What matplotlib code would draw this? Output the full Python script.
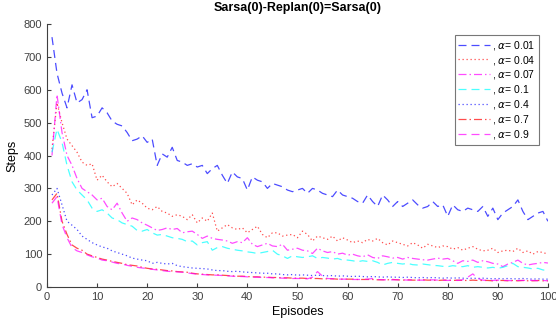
import numpy as np
import matplotlib
matplotlib.use("Agg")
import matplotlib.pyplot as plt

plt.rcParams['font.family'] = ['Liberation Sans', 'DejaVu Sans']
plt.rcParams['mathtext.fontset'] = 'dejavusans'

# Data (steps per episode, episodes 1..100)
episodes = np.arange(1, 101)

steps_a001 = [760, 650, 590, 545, 615, 560, 570, 600, 515, 520,
              545, 530, 505, 495, 490, 470, 445, 450, 460, 440,
              450, 370, 405, 395, 425, 385, 380, 370, 375, 365,
              370, 345, 360, 370, 340, 315, 350, 335, 330, 295,
              335, 325, 320, 300, 315, 310, 305, 295, 290, 295,
              300, 285, 300, 295, 285, 280, 275, 295, 280, 275,
              270, 260, 255, 280, 260, 245, 280, 265, 245, 260,
              245, 255, 265, 250, 240, 245, 260, 245, 250, 215,
              250, 235, 230, 240, 235, 230, 245, 215, 240, 205,
              225, 235, 245, 265, 230, 205, 215, 225, 230, 200]

steps_a004 = [420, 560, 500, 450, 430, 410, 380, 370, 375, 325,
              340, 320, 305, 315, 300, 285, 250, 265, 255, 240,
              235, 245, 230, 225, 215, 220, 215, 205, 220, 195,
              210, 200, 225, 170, 180, 190, 180, 175, 180, 165,
              175, 185, 160, 150, 165, 165, 155, 158, 160, 150,
              170, 160, 140, 155, 150, 145, 155, 140, 150, 143,
              135, 140, 135, 145, 140, 148, 135, 128, 140, 135,
              130, 125, 135, 128, 118, 130, 125, 120, 125, 123,
              115, 120, 112, 118, 123, 115, 110, 112, 118, 105,
              110, 112, 108, 118, 105, 110, 100, 108, 105, 100]

steps_a007 = [400, 585, 470, 400, 370, 330, 300, 290, 280, 265,
              270, 245, 235, 255, 225, 200, 210, 205, 195, 188,
              180, 172, 175, 180, 175, 178, 165, 168, 170, 160,
              148, 155, 148, 145, 143, 140, 133, 138, 135, 150,
              130, 123, 128, 133, 125, 123, 130, 112, 115, 118,
              112, 110, 102, 118, 110, 105, 108, 100, 103, 97,
              100, 95, 92, 98, 90, 87, 95, 92, 88, 90,
              85, 90, 87, 85, 83, 82, 85, 88, 85, 87,
              80, 72, 80, 78, 82, 75, 80, 77, 72, 70,
              62, 70, 75, 82, 72, 67, 70, 72, 75, 73]

steps_a01 = [410, 480, 440, 370, 320, 295, 280, 265, 240, 230,
             235, 225, 210, 205, 195, 190, 185, 172, 170, 175,
             165, 158, 160, 155, 150, 148, 145, 138, 140, 128,
             135, 138, 112, 120, 123, 118, 115, 112, 110, 107,
             105, 102, 105, 108, 112, 100, 95, 87, 95, 92,
             90, 92, 95, 87, 90, 88, 85, 87, 82, 82,
             80, 77, 80, 78, 80, 75, 67, 72, 75, 72,
             70, 72, 68, 67, 70, 68, 66, 65, 63, 62,
             65, 63, 62, 65, 60, 62, 60, 58, 60, 57,
             60, 65, 72, 62, 60, 58, 55, 57, 52, 50]

steps_a04 = [280, 300, 250, 200, 188, 175, 155, 145, 135, 128,
             122, 118, 110, 105, 100, 95, 88, 85, 82, 80,
             72, 75, 72, 70, 72, 65, 62, 60, 58, 57,
             56, 55, 52, 50, 50, 48, 47, 48, 46, 45,
             44, 43, 42, 42, 40, 40, 38, 37, 38, 36,
             37, 36, 35, 36, 35, 34, 35, 33, 34, 33,
             32, 33, 32, 31, 32, 31, 30, 31, 30, 30,
             29, 30, 29, 28, 29, 28, 29, 28, 27, 28,
             27, 28, 27, 26, 27, 26, 27, 26, 25, 26,
             25, 26, 25, 25, 26, 25, 24, 25, 24, 24]

steps_a07 = [265, 285, 200, 160, 128, 118, 112, 100, 95, 90,
             85, 82, 78, 75, 72, 68, 66, 64, 60, 57,
             55, 54, 52, 50, 49, 47, 46, 45, 42, 40,
             39, 38, 37, 37, 36, 35, 34, 33, 33, 32,
             31, 31, 30, 30, 29, 29, 28, 28, 27, 27,
             27, 26, 26, 26, 25, 25, 25, 24, 24, 24,
             24, 23, 23, 23, 23, 22, 22, 22, 23, 22,
             21, 22, 21, 21, 22, 21, 21, 20, 21, 21,
             20, 21, 20, 20, 21, 20, 20, 20, 19, 20,
             20, 19, 20, 19, 20, 19, 19, 20, 19, 19]

steps_a09 = [255, 275, 190, 150, 120, 110, 105, 98, 92, 88,
             82, 80, 76, 72, 70, 66, 63, 60, 58, 56,
             54, 52, 50, 48, 47, 46, 45, 43, 41, 39,
             38, 37, 36, 36, 35, 34, 33, 32, 32, 31,
             30, 30, 29, 29, 28, 28, 27, 27, 26, 26,
             26, 25, 30, 47, 33, 26, 25, 24, 24, 24,
             23, 23, 23, 24, 26, 23, 22, 22, 22, 22,
             22, 21, 22, 21, 21, 21, 22, 21, 21, 20,
             21, 20, 22, 30, 40, 26, 21, 20, 20, 21,
             20, 20, 19, 20, 20, 21, 20, 19, 20, 19]

series = [steps_a001, steps_a004, steps_a007, steps_a01, steps_a04, steps_a07, steps_a09]
alphas = ['0.01', '0.04', '0.07', '0.1', '0.4', '0.7', '0.9']
colors = ['#0000ff', '#ff0000', '#ff00ff', '#00ffff', '#0000ff', '#ff0000', '#ff00ff']

# MATLAB-like dash patterns (in units of linewidth)
dash = (6.4, 4.0)
dot = (1.0, 2.2)
dashdot = (6.4, 2.4, 1.2, 2.4)
patterns = [dash, dot, dashdot, dash, dot, dashdot, dash]

fig = plt.figure(figsize=(5.56, 3.20), dpi=100)
ax = fig.add_axes([0.0845, 0.103, 0.901, 0.822])

for vals, a, c, d in zip(series, alphas, colors, patterns):
    ax.plot(episodes, vals, color=c, linewidth=0.9, dashes=d,
            label=', $\\alpha$= ' + a, alpha=0.7)

ax.set_xlim(0, 100)
ax.set_ylim(0, 800)
ax.set_xticks(np.arange(0, 101, 10))
ax.set_yticks(np.arange(0, 801, 100))
ax.tick_params(direction='in', labelsize=8, colors='#404040', length=3)
for s in ['top', 'right']:
    ax.spines[s].set_visible(False)
for s in ['left', 'bottom']:
    ax.spines[s].set_color('#404040')

ax.set_title('Sarsa(0)-Replan(0)=Sarsa(0)', fontsize=9, fontweight='bold', pad=9)
ax.set_xlabel('Episodes', fontsize=9, labelpad=3)
ax.set_ylabel('Steps', fontsize=9, labelpad=4)

leg = ax.legend(loc='upper right', bbox_to_anchor=(0.982, 0.958), fontsize=7.5,
                handlelength=3.0, handletextpad=0.2, labelspacing=0.18,
                fancybox=False, borderpad=0.35, borderaxespad=0)
leg.get_frame().set_edgecolor('#555555')
leg.get_frame().set_linewidth(0.8)

fig.savefig('out.png', dpi=100)
